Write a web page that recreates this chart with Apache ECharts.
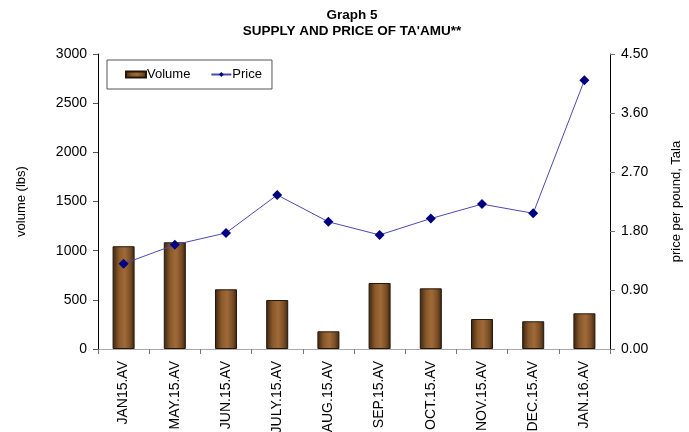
<!DOCTYPE html>
<html><head><meta charset="utf-8">
<script src="https://cdn.jsdelivr.net/npm/echarts@6/dist/echarts.min.js"></script>
<style>html,body{margin:0;padding:0;background:#fff}#c{width:689px;height:432px}</style>
</head><body><div id="c"></div>
<script>
const categories = ['JAN15.AV','MAY.15.AV','JUN.15.AV','JULY.15.AV','AUG.15.AV','SEP.15.AV','OCT.15.AV','NOV.15.AV','DEC.15.AV','JAN.16.AV'];
const volume = [1045, 1085, 607, 498, 180, 671, 617, 305, 282, 363];
const price = [1.30, 1.59, 1.77, 2.35, 1.94, 1.74, 1.99, 2.21, 2.07, 4.10];
const volumeTicks = [0, 500, 1000, 1500, 2000, 2500, 3000];
const priceTicks = ['0.00','0.90','1.80','2.70','3.60','4.50'];

const font = 'Liberation Sans, Arial, sans-serif';
const chart = echarts.init(document.getElementById('c'));
const barColor = new echarts.graphic.LinearGradient(0,0,1,0,[
  {offset:0,color:'#3b2510'},{offset:0.3,color:'#8a5a2c'},{offset:0.55,color:'#a06a38'},{offset:0.8,color:'#7a4e25'},{offset:1,color:'#3b2510'}]);
chart.setOption({
  animation:false,
  textStyle:{fontFamily:font},
  title:{text:'Graph 5\nSUPPLY AND PRICE OF TA\'AMU**',left:347,textAlign:'center',top:2,
    textStyle:{fontFamily:font,fontSize:13.5,fontWeight:'bold',color:'#000',lineHeight:16}},
  legend:{left:107,top:60,width:145,height:30,itemWidth:20,itemHeight:6,itemGap:20,padding:[8,10,8,18],
    borderColor:'#555',borderWidth:1,
    textStyle:{fontFamily:font,fontSize:13,color:'#000',padding:[0,0,0,-4]},
    data:[{name:'Volume',icon:'rect'},{name:'Price'}]},
  grid:{left:98,right:79,top:54,bottom:83,outerBoundsMode:'none',containLabel:false},
  xAxis:[{type:'category',data:categories,boundaryGap:true,
    axisLine:{lineStyle:{color:'#000'}},
    axisTick:{show:true,inside:false,length:5,lineStyle:{color:'#777'}},
    axisLabel:{rotate:90,fontSize:14,color:'#000',fontFamily:font,margin:12}},
    {type:'category',position:'top',data:categories,axisLine:{lineStyle:{color:'#aaa'}},axisTick:{show:false},axisLabel:{show:false}}],
  yAxis:[{type:'value',min:0,max:3000,interval:500,
    name:'volume (lbs)',nameLocation:'middle',nameRotate:90,nameGap:70,
    nameTextStyle:{fontSize:13,color:'#000',fontFamily:font},
    axisLine:{show:true,lineStyle:{color:'#000'}},axisTick:{show:true,length:5,lineStyle:{color:'#555'}},
    splitLine:{show:false},
    axisLabel:{fontSize:14,color:'#000',fontFamily:font,margin:11,formatter:v=>volumeTicks.includes(v)?String(v):''}},
   {type:'value',min:0,max:4.5,interval:0.9,position:'right',
    name:'price per pound, Tala',nameLocation:'middle',nameRotate:90,nameGap:60,
    nameTextStyle:{fontSize:13,color:'#000',fontFamily:font},
    axisLine:{show:true,lineStyle:{color:'#000'}},axisTick:{show:true,length:5,lineStyle:{color:'#777'}},
    splitLine:{show:false},
    axisLabel:{fontSize:14,color:'#000',fontFamily:font,margin:11,formatter:(v)=>priceTicks[Math.round(v/0.9)]}}],
  series:[
    {name:'Volume',type:'bar',data:volume,yAxisIndex:0,barWidth:'43%',
     itemStyle:{color:barColor,borderColor:'#24170a',borderWidth:1}},
    {name:'Price',type:'line',data:price,yAxisIndex:1,symbol:'diamond',symbolSize:10,
     lineStyle:{color:'#4a4aae',width:1},itemStyle:{color:'#000080'}}
  ]
});
</script></body></html>
